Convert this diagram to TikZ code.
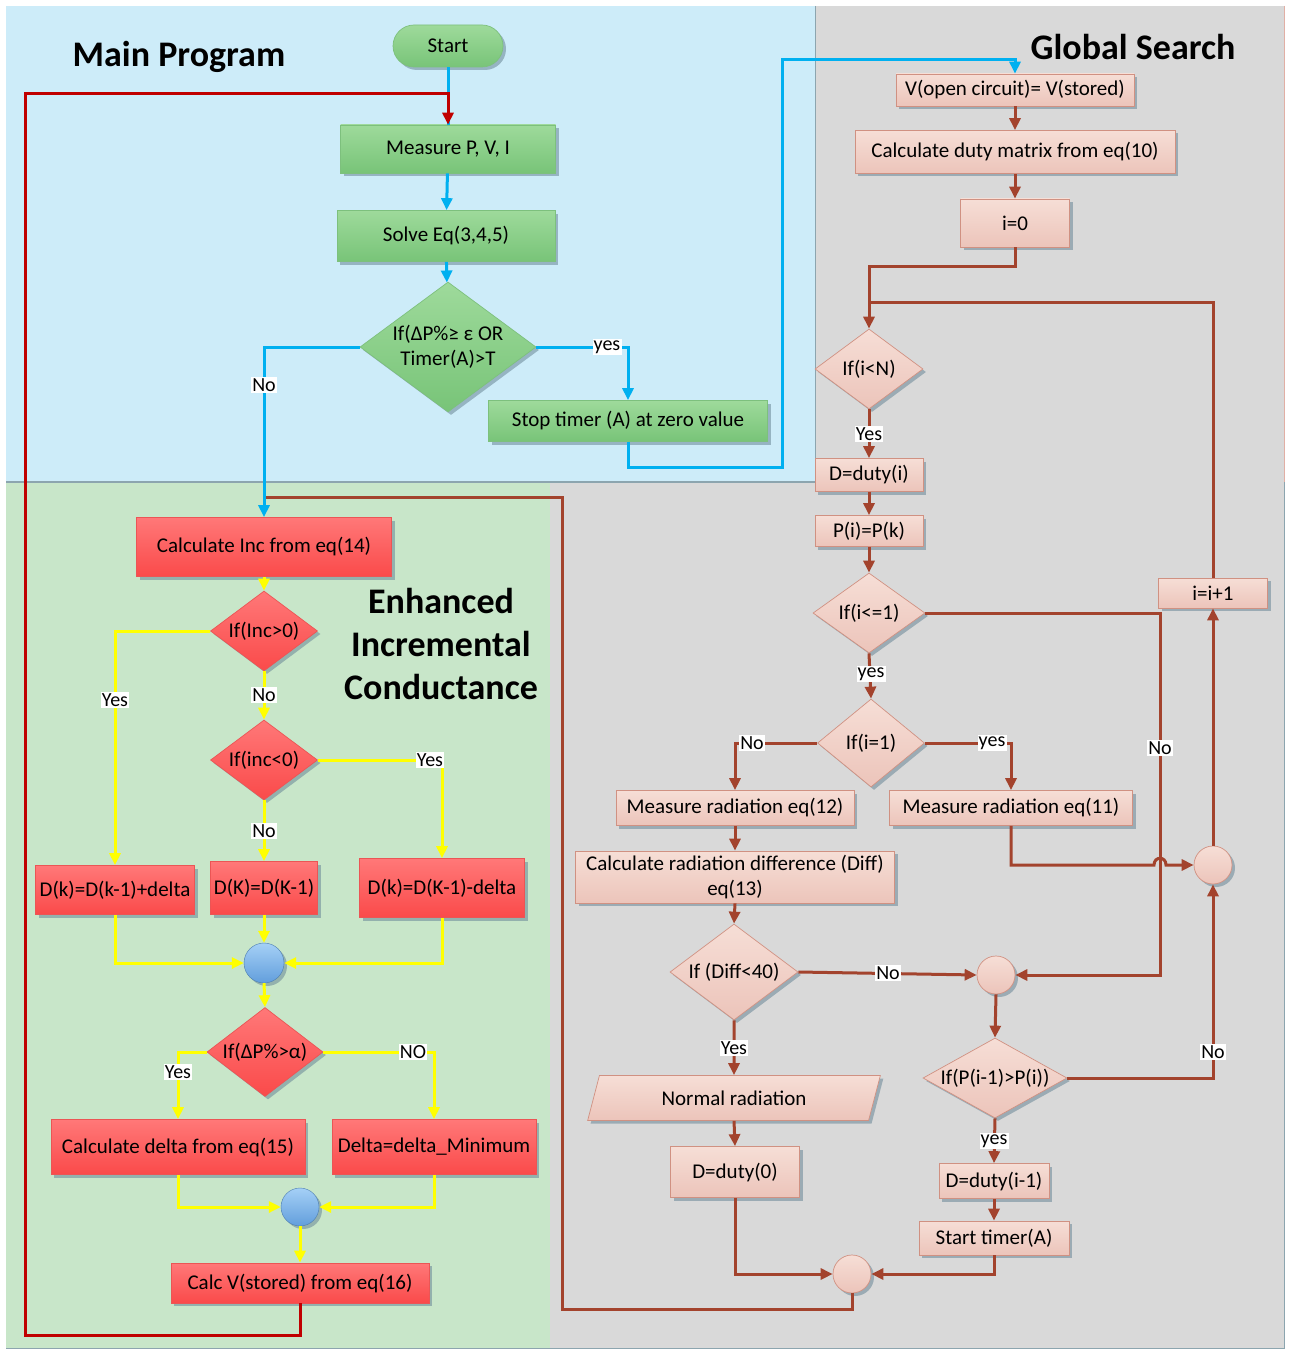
\documentclass[tikz,border=0pt]{standalone}
\usepackage{fontspec}
\setmainfont{Carlito}
\usetikzlibrary{shapes.geometric,arrows.meta,shadows}

\definecolor{bgblue}{RGB}{205,236,249}
\definecolor{bggreen}{RGB}{200,230,201}
\definecolor{bggray}{RGB}{217,217,217}
\definecolor{regline}{RGB}{140,165,175}
\definecolor{regpink}{RGB}{225,175,165}
\definecolor{lblue}{RGB}{0,176,240}
\definecolor{lred}{RGB}{192,0,0}
\definecolor{lyel}{RGB}{255,255,0}
\definecolor{lbrown}{RGB}{163,67,45}
\definecolor{gtop}{RGB}{158,218,155}
\definecolor{gbot}{RGB}{120,196,120}
\definecolor{gdraw}{RGB}{125,192,125}
\definecolor{rtop}{RGB}{255,120,120}
\definecolor{rbot}{RGB}{250,74,74}
\definecolor{rdraw}{RGB}{235,85,85}
\definecolor{ptop}{RGB}{246,222,214}
\definecolor{pbot}{RGB}{236,196,186}
\definecolor{pdraw}{RGB}{208,145,130}
\definecolor{btop}{RGB}{165,208,246}
\definecolor{bbot}{RGB}{98,158,220}
\definecolor{shad}{RGB}{105,135,150}

\newcommand\boxfont{\fontsize{21}{25}\selectfont}
\newcommand\lblfont{\fontsize{20}{22}\selectfont}
\newcommand\ttlfont{\fontsize{36}{43}\selectfont\bfseries}

\begin{document}
\begin{tikzpicture}[x=1pt,y=-1pt,
  base/.style={font=\boxfont, text=black, inner sep=1pt, line width=0.7pt, align=center,
    drop shadow={shadow xshift=3pt,shadow yshift=-3pt,fill=shad,opacity=0.55}},
  gbox/.style={base, rectangle, draw=gdraw, top color=gtop, bottom color=gbot},
  rbox/.style={base, rectangle, draw=rdraw, top color=rtop, bottom color=rbot},
  pbox/.style={base, rectangle, draw=pdraw, top color=ptop, bottom color=pbot},
  gdia/.style={gbox, diamond, inner sep=0pt},
  rdia/.style={rbox, diamond, inner sep=0pt},
  pdia/.style={pbox, diamond, inner sep=0pt},
  bcirc/.style={base, circle, draw=bbot!80!black, line width=0.4pt, top color=btop, bottom color=bbot, minimum size=40pt, inner sep=0pt},
  pcirc/.style={pbox, circle, minimum size=38pt, inner sep=0pt},
  sz/.style 2 args={minimum width=#1pt, minimum height=#2pt},
  tip/.style={-{Triangle[length=12pt,width=11pt]}},
  bl/.style={line width=3pt, draw=lblue},
  rd/.style={line width=3pt, draw=lred},
  yl/.style={line width=3pt, draw=lyel},
  br/.style={line width=3pt, draw=lbrown},
  lbl/.style={fill=white, inner sep=1.2pt, font=\lblfont, text=black},
  ttl/.style={font=\ttlfont, text=black, align=center}
]
\useasboundingbox (0,0) rectangle (1292,1351);
\fill[white] (0,0) rectangle (1292,1351);
% regions
\fill[bgblue] (6,6) rectangle (815,482);
\fill[bggray] (815,6) rectangle (1284,482);
\fill[bggray] (550,482) rectangle (1284,1348);
\fill[bggreen] (6,482) rectangle (550,1348);
\draw[regline, line width=1.5pt] (6,482) -- (815,482);
\draw[regline, line width=1pt] (815,6) -- (815,482);
\draw[regpink, line width=1pt] (1284,6) -- (1284,482);
\draw[regline, line width=1pt] (1284,482) -- (1284,1348) -- (6,1348);

% titles
\node[ttl] (tmain) at (179,57) {Main Program};
\node[ttl] (tglob) at (1133,47) {Global Search};
\node[ttl] (tenh) at (441,644) {Enhanced\\Incremental\\Conductance};

% ---------- Main program ----------
\node[gbox, sz={110}{42}, rounded corners=21pt] (start) at (448,46) {Start};
\node[gbox, sz={215}{48}] (meas) at (448,149) {Measure P, V, I};
\node[gbox, sz={218}{51}] (solve) at (446,236) {Solve Eq(3,4,5)};
\node[gdia, sz={176}{130}, aspect=1.35] (dec1) at (448,347) {If(ΔP\%≥ ε OR\\Timer(A)>T};
\node[gbox, sz={279}{41}] (stop) at (628,421) {Stop timer (A) at zero value};

% ---------- Global search ----------
\node[pbox, sz={238}{32}] (voc) at (1015,90) {V(open circuit)= V(stored)};
\node[pbox, sz={320}{43}] (duty) at (1015,152) {Calculate duty matrix from eq(10)};
\node[pbox, sz={109}{48}] (i0) at (1015,223) {i=0};
\node[pdia, sz={108}{80}, aspect=1.35] (ifN) at (869,369) {If(i<N)};
\node[pbox, sz={108}{33}] (dduty) at (869,475) {D=duty(i)};
\node[pbox, sz={108}{31}] (pipk) at (869,531) {P(i)=P(k)};
\node[pdia, sz={112}{80}, aspect=1.4] (ifle) at (869,613) {If(i<=1)};
\node[pdia, sz={107}{88}, aspect=1.22] (ifeq) at (871,743) {If(i=1)};
\node[pbox, sz={238}{35}] (mr12) at (735,808) {Measure radiation eq(12)};
\node[pbox, sz={243}{35}] (mr11) at (1011,808) {Measure radiation eq(11)};
\node[pbox, sz={319}{52}] (crd) at (735,877) {Calculate radiation difference (Diff)\\eq(13)};
\node[pdia, sz={128}{96}, aspect=1.33] (ifdiff) at (734,972) {If (Diff<40)};
\node[pbox, trapezium, trapezium left angle=69, trapezium right angle=111, trapezium stretches=true, sz={293}{45}] (normal) at (734,1098) {Normal radiation};
\node[pbox, sz={129}{51}] (d0) at (735,1172) {D=duty(0)};
\node[pcirc] (c2) at (996,975) {};
\node[pdia, sz={144}{80}, aspect=1.8] (ifp) at (995,1078) {If(P(i-1)>P(i))};
\node[pbox, sz={110}{35}] (dim1) at (994,1181) {D=duty(i-1)};
\node[pbox, sz={150}{34}] (timer) at (994,1238) {Start timer(A)};
\node[pcirc] (c3) at (852,1274) {};
\node[pcirc] (c1) at (1213,865) {};
\node[pbox, sz={109}{30}] (inc) at (1213,593) {i=i+1};

% ---------- Enhanced incremental conductance ----------
\node[rbox, sz={255}{59}] (cinc) at (264,547) {Calculate Inc from eq(14)};
\node[rdia, sz={107}{80}, aspect=1.34] (ifgt) at (264,631) {If(Inc>0)};
\node[rdia, sz={107}{80}, aspect=1.34] (iflt) at (264,760) {If(inc<0)};
\node[rbox, sz={159}{49}] (dplus) at (115,890) {D(k)=D(k-1)+delta};
\node[rbox, sz={107}{53}] (dsame) at (264,888) {D(K)=D(K-1)};
\node[rbox, sz={165}{59}] (dminus) at (442,888) {D(k)=D(K-1)-delta};
\node[bcirc] (bc1) at (264,963) {};
\node[rdia, sz={116}{89}, aspect=1.3] (ifdp) at (265,1052) {If(ΔP\%>α)};
\node[rbox, sz={254}{55}] (cdelta) at (178,1147) {Calculate delta from eq(15)};
\node[rbox, sz={204}{55}] (dmin) at (434,1147) {Delta=delta\_Minimum};
\node[bcirc, minimum size=38pt] (bc2) at (300,1207) {};
\node[rbox, sz={258}{40}] (vstored) at (300,1283) {Calc V(stored) from eq(16)};

% ---------- brown connectors ----------
\draw[br, tip] (voc) -- (duty);
\draw[br, tip] (duty) -- (i0);
\draw[br, tip] (i0.south) -- ++(0,19) -| (ifN.north);
\draw[br] (inc.north) -- (1213,302) -- (869,302);
\draw[br, tip] (ifN.south) -- (dduty.north);
\draw[br, tip] (dduty) -- (pipk);
\draw[br, tip] (pipk) -- (ifle);
\draw[br, tip] (ifle.south) -- (ifeq.north);
\draw[br, tip] (ifle.east) -- (1160,613) -- (1160,975) -- (c2.east);
\draw[br, tip] (ifeq.west) -| (mr12.north);
\draw[br, tip] (ifeq.east) -| (mr11.north);
\draw[br, tip] (mr12) -- (crd);
\draw[br, tip] (mr11.south) -- (1011,865) -- (1154,865) .. controls (1154,856) and (1166,856) .. (1166,865) -- (c1.west);
\draw[br, tip] (c1.north) -- (inc.south);
\draw[br, tip] (crd.south) -- (ifdiff.north);
\draw[br, tip] (ifdiff.east) -- (c2.west);
\draw[br, tip] (c2.south) -- (ifp.north);
\draw[br, tip] (ifp.east) -| (c1.south);
\draw[br, tip] (ifp.south) -- (dim1.north);
\draw[br, tip] (dim1) -- (timer);
\draw[br, tip] (timer.south) |- (c3.east);
\draw[br, tip] (ifdiff.south) -- (normal.north);
\draw[br, tip] (normal.south) -- (d0.north);
\draw[br, tip] (d0.south) |- (c3.west);
\draw[br] (c3.south) -- (852,1309) -- (562,1309) -- (562,497) -- (264,497);

% ---------- blue connectors ----------
\draw[bl] (start.south) -- (meas.north);
\draw[bl, tip] (meas) -- (solve);
\draw[bl, tip] (solve) -- (dec1);
\draw[bl, tip] (dec1.west) -| (cinc.north);
\draw[bl, tip] (dec1.east) -| (stop.north);
\draw[bl, tip] (stop.south) -- (628,467) -- (782,467) -- (782,60) -| (voc.north);

% ---------- yellow connectors ----------
\draw[yl, tip] (cinc) -- (ifgt);
\draw[yl, tip] (ifgt.west) -| (dplus.north);
\draw[yl, tip] (ifgt.south) -- (iflt.north);
\draw[yl, tip] (iflt.east) -| (dminus.north);
\draw[yl, tip] (iflt.south) -- (dsame.north);
\draw[yl, tip] (dplus.south) |- (bc1.west);
\draw[yl, tip] (dsame.south) -- (bc1.north);
\draw[yl, tip] (dminus.south) |- (bc1.east);
\draw[yl, tip] (bc1.south) -- (ifdp.north);
\draw[yl, tip] (ifdp.west) -| (cdelta.north);
\draw[yl, tip] (ifdp.east) -| (dmin.north);
\draw[yl, tip] (cdelta.south) |- (bc2.west);
\draw[yl, tip] (dmin.south) |- (bc2.east);
\draw[yl, tip] (bc2.south) -- (vstored.north);

% ---------- red loop ----------
\draw[rd, tip] (vstored.south) -- (300,1335) -- (25,1335) -- (25,94) -- (448,94) -- (meas.north);

% ---------- labels ----------
\node[lbl] (l1) at (264,385) {No};
\node[lbl] (l2) at (607,347) {yes};
\node[lbl] (l3) at (869,434) {Yes};
\node[lbl] (l4) at (871,674) {yes};
\node[lbl] (l5) at (752,743) {No};
\node[lbl] (l6) at (992,743) {yes};
\node[lbl] (l7) at (1160,748) {No};
\node[lbl] (l8) at (888,973) {No};
\node[lbl] (l9) at (734,1048) {Yes};
\node[lbl] (l10) at (1213,1052) {No};
\node[lbl] (l11) at (994,1141) {yes};
\node[lbl] (l12) at (115,700) {Yes};
\node[lbl] (l13) at (264,695) {No};
\node[lbl] (l14) at (430,760) {Yes};
\node[lbl] (l15) at (264,831) {No};
\node[lbl] (l16) at (178,1072) {Yes};
\node[lbl] (l17) at (413,1052) {NO};
\end{tikzpicture}
\end{document}
